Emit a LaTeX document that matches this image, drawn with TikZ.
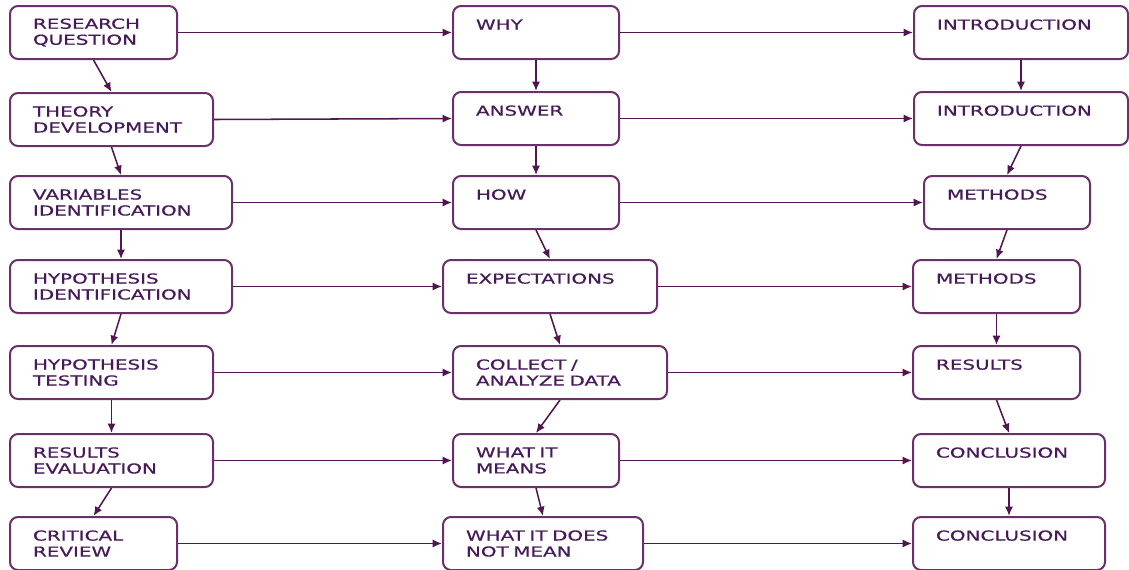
\documentclass[tikz,border=0pt]{standalone}
\usepackage{fontspec}
\newfontfamily\boxfont{DejaVu Sans}[FakeStretch=1.45, FakeBold=0.6]
\usepackage{tikz}
\usetikzlibrary{arrows.meta}
\definecolor{boxline}{RGB}{105, 48, 105}
\definecolor{arrline}{RGB}{80, 22, 80}
\definecolor{boxtext}{RGB}{70, 25, 88}
\newcommand{\px}{0.75pt}
\tikzset{
  % Kataklar
  procbox/.style = {draw=boxline, line width=1.5pt, rounded corners=6pt,
                    anchor=north west, minimum height=53*\px, inner ysep=0pt,
                    inner xsep=23*\px, minimum width=#1*\px,
                    text width=#1*\px-46*\px, align=left, text=boxtext,
                    font=\boxfont\fontsize{10.3}{12}\selectfont},
  % Strelkalar
  flowarr/.style = {draw=arrline, line width=1.15pt,
                    -{Latex[length=7pt, width=6pt]}},
}
\begin{document}
\begin{tikzpicture}[x=\px, y=-\px]
  \useasboundingbox (0,0) rectangle (1129,569);
  % 1-ustun
  \node[procbox=167] (rq) at (9,5)   {RESEARCH\\QUESTION};
  \node[procbox=203] (td) at (9,92)  {THEORY\\DEVELOPMENT};
  \node[procbox=222] (vi) at (9,175) {VARIABLES\\IDENTIFICATION};
  \node[procbox=222] (hi) at (9,259) {HYPOTHESIS\\IDENTIFICATION};
  \node[procbox=203] (ht) at (9,345) {HYPOTHESIS\\TESTING};
  \node[procbox=203] (re) at (9,433) {RESULTS\\EVALUATION};
  \node[procbox=167] (cr) at (9,516) {CRITICAL\\REVIEW};
  % 2-ustun
  \node[procbox=166] (why) at (452,5)   {WHY\\\mbox{}};
  \node[procbox=166] (ans) at (452,91)  {ANSWER\\\mbox{}};
  \node[procbox=166] (how) at (452,175) {HOW\\\mbox{}};
  \node[procbox=214] (exp) at (442,259) {EXPECTATIONS\\\mbox{}};
  \node[procbox=214] (col) at (452,345) {COLLECT~/\\ANALYZE~DATA};
  \node[procbox=166] (wim) at (452,433) {WHAT~IT\\MEANS};
  \node[procbox=200] (wdn) at (442,516) {WHAT~IT~DOES\\NOT~MEAN};
  % 3-ustun
  \node[procbox=214] (in1) at (913,5)   {INTRODUCTION\\\mbox{}};
  \node[procbox=214] (in2) at (913,91)  {INTRODUCTION\\\mbox{}};
  \node[procbox=166] (me1) at (923,175) {METHODS\\\mbox{}};
  \node[procbox=167] (me2) at (912,259) {METHODS\\\mbox{}};
  \node[procbox=167] (res) at (912,345) {RESULTS\\\mbox{}};
  \node[procbox=192] (co1) at (912,433) {CONCLUSION\\\mbox{}};
  \node[procbox=192] (co2) at (912,516) {CONCLUSION\\\mbox{}};
  % Vertikal strelkalar
  \draw[flowarr] (rq.south) -- (td.north);
  \draw[flowarr] (td.south) -- (vi.north);
  \draw[flowarr] (vi.south) -- (hi.north);
  \draw[flowarr] (hi.south) -- (ht.north);
  \draw[flowarr] (ht.south) -- (re.north);
  \draw[flowarr] (re.south) -- (cr.north);
  \draw[flowarr] (why.south) -- (ans.north);
  \draw[flowarr] (ans.south) -- (how.north);
  \draw[flowarr] (how.south) -- (exp.north);
  \draw[flowarr] (exp.south) -- (col.north);
  \draw[flowarr] (col.south) -- (wim.north);
  \draw[flowarr] (wim.south) -- (wdn.north);
  \draw[flowarr] (in1.south) -- (in2.north);
  \draw[flowarr] (in2.south) -- (me1.north);
  \draw[flowarr] (me1.south) -- (me2.north);
  \draw[flowarr] (me2.south) -- (res.north);
  \draw[flowarr] (res.south) -- (co1.north);
  \draw[flowarr] (co1.south) -- (co2.north);
  % Gorizontal strelkalar
  \draw[flowarr] (rq.east) -- (why.west);
  \draw[flowarr] (td.east) -- (ans.west);
  \draw[flowarr] (vi.east) -- (how.west);
  \draw[flowarr] (hi.east) -- (exp.west);
  \draw[flowarr] (ht.east) -- (col.west);
  \draw[flowarr] (re.east) -- (wim.west);
  \draw[flowarr] (cr.east) -- (wdn.west);
  \draw[flowarr] (why.east) -- (in1.west);
  \draw[flowarr] (ans.east) -- (in2.west);
  \draw[flowarr] (how.east) -- (me1.west);
  \draw[flowarr] (exp.east) -- (me2.west);
  \draw[flowarr] (col.east) -- (res.west);
  \draw[flowarr] (wim.east) -- (co1.west);
  \draw[flowarr] (wdn.east) -- (co2.west);
\end{tikzpicture}
\end{document}
